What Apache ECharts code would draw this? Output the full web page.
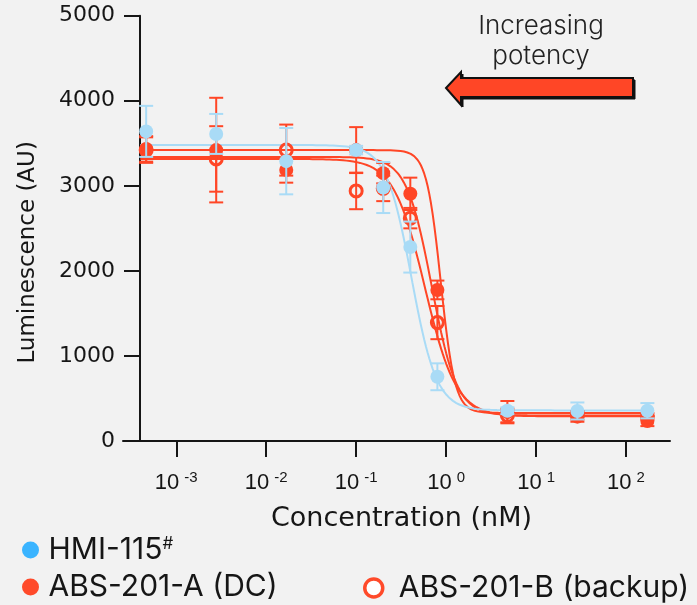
<!DOCTYPE html>
<html>
<head>
<meta charset="utf-8">
<script src="https://cdn.jsdelivr.net/npm/echarts@6/dist/echarts.min.js"></script>
<style>
  html, body { margin: 0; padding: 0; background: #f2f2f2; }
  #chart { width: 697px; height: 605px; }
</style>
</head>
<body>
<div id="chart"></div>
<script>
// Dilution series (nM)
const concentrations = [0.000463, 0.00278, 0.0167, 0.1, 0.2, 0.4, 0.8, 4.8, 28.8, 172.8];

// Mean luminescence and SD per compound
const hmiMean  = [3640, 3610, 3290, 3420, 2980, 2280, 755, 356, 353, 356];
const hmiSd    = [300, 235, 390, 50, 300, 300, 158, 40, 100, 90];

const absAMean = [3434, 3420, 3187, 3420, 3149, 2906, 1776, 339, 286, 235];
const absASd   = [150, 615, 150, 270, 120, 190, 110, 131, 60, 60];

const absBMean = [3420, 3316, 3420, 2940, 2970, 2620, 1392, 300, 300, 290];
const absBSd   = [150, 385, 300, 215, 150, 120, 195, 80, 50, 40];

// 4-parameter logistic fits: [top, bottom, logIC50, hillSlope]
const fitHmi   = [3480, 360, -0.385, 3.1];
const fitAbsA  = [3340, 300, -0.16, 3.1];
const fitAbsA2 = [3420, 330, -0.06, 5.5];
const fitAbsB  = [3316, 290, -0.235, 2.5];

// Axis ticks
const xTickExponents = [-3, -2, -1, 0, 1, 2];
const yTickStep = 1000;
const yMax = 5000;

const names = { hmi: 'HMI-115#', a: 'ABS-201-A (DC)', b: 'ABS-201-B (backup)' };
const blue = '#a9dbf6';
const red = '#ff4626';
const ink = '#161616';

const logConc = concentrations.map(c => Math.log10(c));

// Fitted dose-response curve evaluated along the log-concentration axis
function fitCurve(p) {
  const [top, bottom, logIC50, hill] = p;
  const start = -3.4, end = logConc[logConc.length - 1];
  const pts = [];
  const n = 300;
  for (let i = 0; i <= n; i++) {
    const lx = start + (end - start) * i / n;
    pts.push([lx, bottom + (top - bottom) / (1 + Math.pow(10, (lx - logIC50) * hill))]);
  }
  return pts;
}

function curveSeries(p, color, z) {
  return {
    type: 'line', data: fitCurve(p), showSymbol: false, silent: true, z,
    lineStyle: { color, width: 2 }, animation: false
  };
}

function errorSeries(means, sds, color, z) {
  return {
    type: 'custom', silent: true, z, animation: false,
    data: logConc.map((x, i) => [x, means[i], sds[i]]),
    encode: { x: 0, y: 1 },
    renderItem(params, api) {
      const x = api.value(0), m = api.value(1), s = api.value(2);
      const top = api.coord([x, m + s]);
      const bot = api.coord([x, m - s]);
      const w = 7;
      const st = { stroke: color, lineWidth: 2 };
      return {
        type: 'group',
        children: [
          { type: 'line', shape: { x1: top[0], y1: top[1], x2: bot[0], y2: bot[1] }, style: st },
          { type: 'line', shape: { x1: top[0] - w, y1: top[1], x2: top[0] + w, y2: top[1] }, style: st },
          { type: 'line', shape: { x1: bot[0] - w, y1: bot[1], x2: bot[0] + w, y2: bot[1] }, style: st }
        ]
      };
    }
  };
}

const chart = echarts.init(document.getElementById('chart'), null, { renderer: 'canvas' });

const axisFont = 'DejaVu Sans';
const tickFont = 'Liberation Sans';
const legendFont = 'Inter';

const legendText = {
  rich: {
    n: { fontFamily: legendFont, fontSize: 30, color: ink, lineHeight: 30 },
    s: { fontFamily: legendFont, fontSize: 17, color: ink, verticalAlign: 'top' }
  }
};
const legendFormatter = n => n === names.hmi ? '{n|HMI-115}{s|#}' : '{n|' + n + '}';

chart.setOption({
  backgroundColor: '#f2f2f2',
  animation: false,
  grid: { left: 123, right: 27, top: 15.7, bottom: 164, containLabel: false },
  xAxis: {
    type: 'value', min: -3.592, max: 2.489,
    name: 'Concentration (nM)', nameLocation: 'middle', nameGap: 64,
    nameTextStyle: { fontFamily: axisFont, fontSize: 27, color: ink, padding: [0, 0, 0, 10] },
    axisLine: { onZero: false, lineStyle: { color: ink, width: 2 } },
    axisTick: { customValues: xTickExponents, length: 16, lineStyle: { color: ink, width: 2 } },
    axisLabel: {
      customValues: xTickExponents, margin: 29,
      formatter: v => '{b|10}{s|' + v + '}',
      rich: {
        b: { fontFamily: tickFont, fontSize: 22, color: ink, lineHeight: 26 },
        s: { fontFamily: tickFont, fontSize: 15, color: ink, verticalAlign: 'top', padding: [0, 0, 0, 5] }
      }
    },
    splitLine: { show: false }
  },
  yAxis: {
    type: 'value', min: 0, max: yMax, interval: yTickStep, offset: -17,
    name: 'Luminescence (AU)', nameLocation: 'middle', nameGap: 100,
    nameTextStyle: { fontFamily: axisFont, fontSize: 23, color: ink, padding: [0, 48, 0, 0] },
    axisLine: { onZero: false, lineStyle: { color: ink, width: 2 } },
    axisTick: { length: 16, lineStyle: { color: ink, width: 2 } },
    axisLabel: { fontFamily: axisFont, fontSize: 22, color: ink, margin: 25, formatter: v => String(v) },
    splitLine: { show: false }
  },
  legend: [
    {
      left: 22, top: 535, padding: 0, itemWidth: 26, itemHeight: 17, icon: 'circle',
      data: [{ name: names.hmi, itemStyle: { color: '#3ab4ff', borderWidth: 0 } }],
      formatter: legendFormatter, textStyle: legendText
    },
    {
      left: 22, top: 572, padding: 0, itemWidth: 26, itemHeight: 17, icon: 'circle',
      data: [{ name: names.a, itemStyle: { color: '#ff4a2a', borderWidth: 0 } }],
      formatter: legendFormatter, textStyle: legendText
    },
    {
      left: 363, top: 573, padding: 0, itemWidth: 40, itemHeight: 18, icon: 'circle',
      data: [{ name: names.b, itemStyle: { color: '#ffffff', borderColor: '#ff4a2a', borderWidth: 3.5 } }],
      formatter: legendFormatter, textStyle: legendText
    }
  ],
  graphic: [
    {
      type: 'text', x: 541, y: 11,
      style: {
        text: 'Increasing\npotency', fontFamily: legendFont, fontWeight: 300, fontSize: 26,
        fill: '#222', align: 'center', verticalAlign: 'top', lineHeight: 30
      }
    },
    {
      type: 'polygon', z: 10,
      shape: { points: [[448, 90], [463, 74], [463, 80], [635, 80], [635, 99], [463, 99], [463, 107]] },
      style: { fill: '#111', stroke: '#111', lineWidth: 1 }
    },
    {
      type: 'polygon', z: 11,
      shape: { points: [[446, 88], [461, 72], [461, 78], [633, 78], [633, 97], [461, 97], [461, 105]] },
      style: { fill: '#ff4626', stroke: '#111', lineWidth: 2 }
    }
  ],
  series: [
    curveSeries(fitAbsA2, red, 2),
    curveSeries(fitAbsA, red, 2),
    curveSeries(fitAbsB, red, 2),
    curveSeries(fitHmi, blue, 2),
    errorSeries(absAMean, absASd, red, 3),
    {
      name: names.a, type: 'scatter', z: 4, symbol: 'circle', symbolSize: 14,
      data: logConc.map((x, i) => [x, absAMean[i]]),
      itemStyle: { color: red, opacity: 1 }
    },
    errorSeries(absBMean, absBSd, red, 5),
    {
      name: names.b, type: 'scatter', z: 6, symbol: 'circle', symbolSize: 12,
      data: logConc.map((x, i) => [x, absBMean[i]]),
      itemStyle: { color: 'rgba(0,0,0,0)', borderColor: red, borderWidth: 3, opacity: 1 }
    },
    errorSeries(hmiMean, hmiSd, blue, 7),
    {
      name: names.hmi, type: 'scatter', z: 8, symbol: 'circle', symbolSize: 14,
      data: logConc.map((x, i) => [x, hmiMean[i]]),
      itemStyle: { color: blue, opacity: 1 }
    }
  ]
});
</script>
</body>
</html>
